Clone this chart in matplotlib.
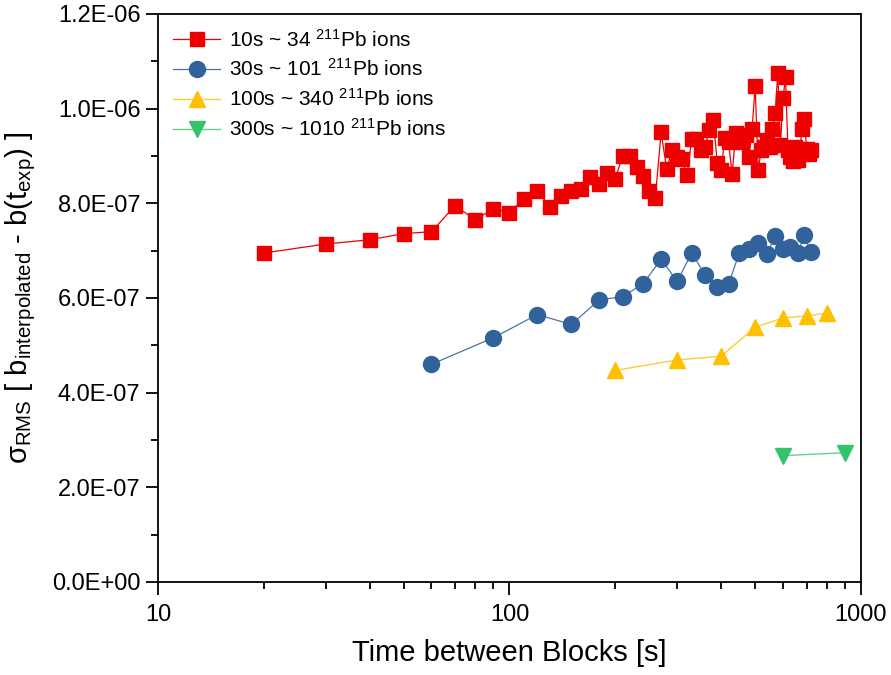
import matplotlib
matplotlib.use("Agg")
import matplotlib.pyplot as plt
from matplotlib.ticker import MultipleLocator, FixedLocator, LogLocator, NullFormatter, FuncFormatter

plt.rcParams['font.family'] = ['Liberation Sans', 'DejaVu Sans']
plt.rcParams['mathtext.fontset'] = 'custom'
plt.rcParams['mathtext.rm'] = 'Liberation Sans'
plt.rcParams['mathtext.it'] = 'Liberation Sans:italic'
plt.rcParams['mathtext.bf'] = 'Liberation Sans:bold'

# ---- data ----
t10 = list(range(20, 721, 10))
sig10 = [6.95, 7.14, 7.23, 7.36, 7.40, 7.95, 7.65, 7.89, 7.80, 8.10,
         8.27, 7.93, 8.16, 8.25, 8.31, 8.56, 8.40, 8.65, 8.52, 9.01,
         9.01, 8.76, 8.57, 8.27, 8.12, 9.50, 8.73, 9.12, 8.97, 8.93,
         8.59, 9.35, 9.35, 9.12, 9.20, 9.54, 9.77, 8.86, 8.71, 9.39,
         9.30, 8.61, 9.48, 9.40, 9.30, 9.45, 8.97, 9.56, 10.47, 8.71,
         9.12, 9.18, 9.33, 9.20, 9.58, 9.90, 10.75, 9.23, 10.22, 10.66,
         9.12, 8.97, 8.90, 9.20, 8.92, 9.15, 9.56, 9.79, 9.15, 9.05, 9.12]

t30 = list(range(60, 721, 30))
sig30 = [4.60, 5.16, 5.65, 5.44, 5.96, 6.03, 6.30, 6.82, 6.35, 6.95,
         6.49, 6.23, 6.29, 6.94, 7.04, 7.16, 6.92, 7.31, 7.04, 7.07,
         6.94, 7.33, 6.97]

t100 = [200, 300, 400, 500, 600, 700, 800]
sig100 = [4.47, 4.69, 4.77, 5.38, 5.58, 5.62, 5.68]

t300 = [600, 900]
sig300 = [2.67, 2.73]

labels = [r'10s ~ 34 $^{211}$Pb ions', r'30s ~ 101 $^{211}$Pb ions',
          r'100s ~ 340 $^{211}$Pb ions', r'300s ~ 1010 $^{211}$Pb ions']

fig = plt.figure(figsize=(8.91, 6.75), dpi=100)
ax = fig.add_axes([0.1773, 0.1378, 0.789, 0.8415])

ax.plot(t10, [v * 1e-7 for v in sig10], color='#EE0000', lw=0.9, marker='s',
        ms=10, mfc='#EE0000', mec='#EE0000', label=labels[0], zorder=4)
ax.plot(t30, [v * 1e-7 for v in sig30], color='#4A74A8', lw=0.9, marker='o',
        ms=11.5, mfc='#31629B', mec='#31629B', label=labels[1], zorder=3)
ax.plot(t100, [v * 1e-7 for v in sig100], color='#FFCC33', lw=1.0, marker='^',
        ms=12, mfc='#FFC000', mec='#FFC000', label=labels[2], zorder=3)
ax.plot(t300, [v * 1e-7 for v in sig300], color='#66D08E', lw=1.0, marker='v',
        ms=12, mfc='#33C46B', mec='#33C46B', label=labels[3], zorder=3)

ax.set_xscale('log')
ax.set_xlim(10, 1000)
ax.set_ylim(0, 1.2e-6)
ax.xaxis.set_major_locator(FixedLocator([10, 100, 1000]))
ax.xaxis.set_major_formatter(FuncFormatter(lambda v, p: f"{int(round(v))}"))
ax.xaxis.set_minor_locator(LogLocator(base=10, subs=range(2, 10)))
ax.xaxis.set_minor_formatter(NullFormatter())
ax.yaxis.set_major_locator(MultipleLocator(2e-7))
ax.yaxis.set_minor_locator(MultipleLocator(1e-7))

def yfmt(v, p):
    return f"{v:.1E}"
ax.yaxis.set_major_formatter(FuncFormatter(yfmt))

ax.tick_params(axis='both', which='major', direction='out', length=9, width=1.3,
               labelsize=17, top=False, right=False)
ax.tick_params(axis='both', which='minor', direction='out', length=5, width=1.3,
               top=False, right=False)
ax.tick_params(axis='x', which='major', pad=7)
for sp in ax.spines.values():
    sp.set_linewidth(1.3)

ax.set_xlabel('Time between Blocks [s]', fontsize=21, labelpad=9)
ax.set_ylabel(r'σ$_{\rm RMS}$ [ b$_{\rm interpolated}$ - b(t$_{\rm exp}$) ]', fontsize=21, labelpad=10)

leg = ax.legend(loc='upper left', frameon=False, fontsize=15, handlelength=2.3,
                labelspacing=0.38, borderaxespad=0.3, handletextpad=0.4)

fig.savefig('out.png', dpi=100)
